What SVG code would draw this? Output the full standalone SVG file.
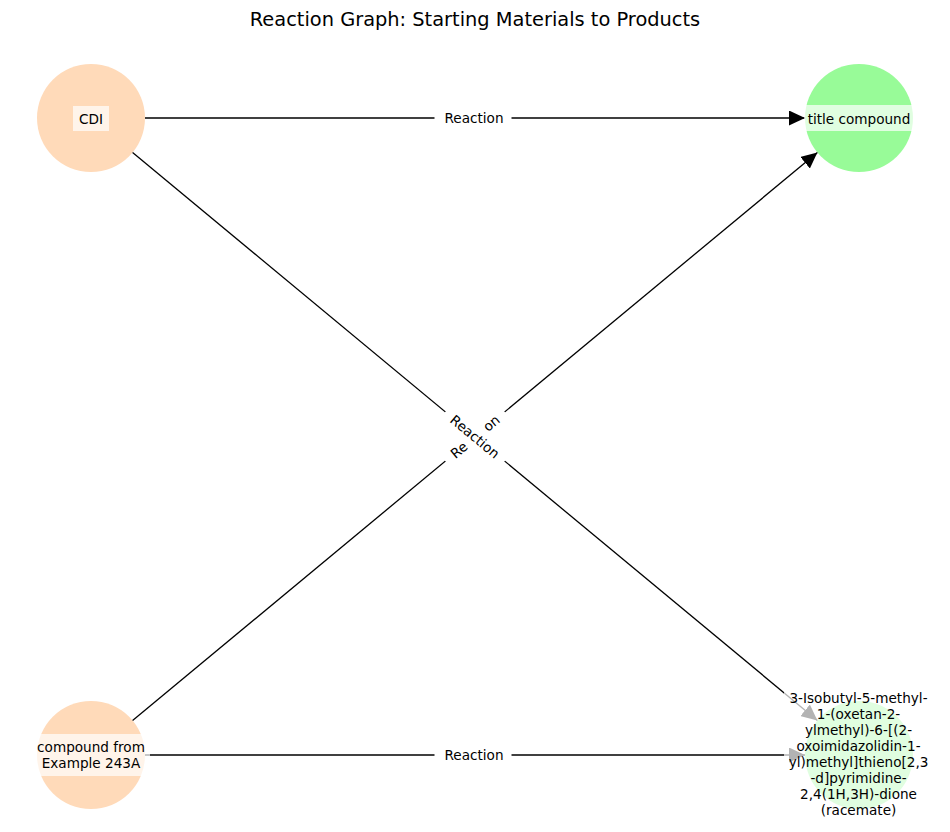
<svg xmlns="http://www.w3.org/2000/svg" width="950" height="832" viewBox="0 0 950 832">
<style>
text{font-family:"DejaVu Sans","Liberation Sans",sans-serif;fill:#000}
.lbl{font-size:13.6px;text-anchor:middle}
.title{font-size:19.4px;text-anchor:middle}
.edge{stroke:#000;stroke-width:1.3;fill:none}
.ov{fill:#fff;fill-opacity:0.7}
.elb{fill:#fff;stroke:#fff;stroke-width:1}
.start{fill:#ffdab9}
.end{fill:#98fb98}
</style>
<defs>
<marker id="ah" viewBox="0 0 16 15" refX="16" refY="7.5" markerWidth="16" markerHeight="15" markerUnits="userSpaceOnUse" orient="auto">
<path d="M0,0 L16,7.5 L0,15 z" fill="#000"/>
</marker>
</defs>
<rect width="950" height="832" fill="#fff"/>
<text class="title" x="475" y="26">Reaction Graph: Starting Materials to Products</text>

<g id="node-cdi"><circle class="start" cx="91" cy="118" r="54"/></g>
<g id="node-title"><circle class="end" cx="859" cy="118" r="54"/></g>
<g id="node-example"><circle class="start" cx="91" cy="755" r="54"/></g>
<g id="node-product"><circle class="end" cx="859" cy="755" r="54"/></g>

<g id="edges">
<line class="edge" x1="145" y1="118" x2="805" y2="118" marker-end="url(#ah)"/>
<line class="edge" x1="132.6" y1="152.5" x2="817.4" y2="720.5" marker-end="url(#ah)"/>
<line class="edge" x1="132.6" y1="720.5" x2="817.4" y2="152.5" marker-end="url(#ah)"/>
<line class="edge" x1="145" y1="755" x2="805" y2="755" marker-end="url(#ah)"/>
<g id="edge-labels">
<rect class="elb" x="435" y="106" width="76" height="24" rx="5"/>
<text class="lbl" x="474" y="123">Reaction</text>
<rect class="elb" x="435" y="743" width="76" height="24" rx="5"/>
<text class="lbl" x="474" y="760">Reaction</text>
<g transform="translate(475,436.5) rotate(-39.67)">
<rect class="elb" x="-38" y="-12" width="76" height="24" rx="5"/>
<text class="lbl" x="0" y="5">Reaction</text>
</g>
<g transform="translate(475,436.5) rotate(39.67)">
<rect class="elb" x="-38" y="-12" width="76" height="24" rx="5"/>
<text class="lbl" x="0" y="5">Reaction</text>
</g>
</g>
</g>

<g id="label-cdi">
<rect class="ov" x="73" y="106" width="36" height="25"/>
<text class="lbl" x="91" y="123.5">CDI</text>
</g>
<g id="label-title">
<rect class="ov" x="804" y="105" width="110" height="26"/>
<text class="lbl" x="859" y="123.5">title compound</text>
</g>
<g id="label-example">
<rect class="ov" x="32" y="734" width="118" height="42"/>
<text class="lbl" x="91" y="751.5">compound from</text>
<text class="lbl" x="91" y="767.5">Example 243A</text>
</g>
<g id="label-product">
<rect class="ov" x="784" y="684" width="149" height="143"/>
<text class="lbl" x="858.5" y="703">3-Isobutyl-5-methyl-</text>
<text class="lbl" x="858.5" y="719">1-(oxetan-2-</text>
<text class="lbl" x="858.5" y="735">ylmethyl)-6-[(2-</text>
<text class="lbl" x="858.5" y="751">oxoimidazolidin-1-</text>
<text class="lbl" x="858.5" y="767">yl)methyl]thieno[2,3</text>
<text class="lbl" x="858.5" y="783">-d]pyrimidine-</text>
<text class="lbl" x="858.5" y="799">2,4(1H,3H)-dione</text>
<text class="lbl" x="858.5" y="815">(racemate)</text>
</g>
</svg>
